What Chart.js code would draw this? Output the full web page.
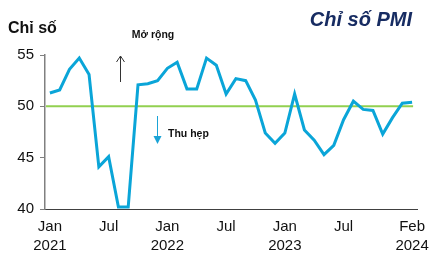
<!DOCTYPE html>
<html>
<head>
<meta charset="utf-8">
<script src="https://cdn.jsdelivr.net/npm/chart.js@4"></script>
<style>
  html, body { margin: 0; padding: 0; background: #fff; }
  #wrap { width: 430px; height: 255px; }
</style>
</head>
<body>
<div id="wrap"><canvas id="pmi-chart" width="430" height="255"></canvas></div>
<script>
// Tháng (Jan 2021 -> Feb 2024)
const thang = [
  'Jan 2021','Feb 2021','Mar 2021','Apr 2021','May 2021','Jun 2021','Jul 2021','Aug 2021','Sep 2021','Oct 2021','Nov 2021','Dec 2021',
  'Jan 2022','Feb 2022','Mar 2022','Apr 2022','May 2022','Jun 2022','Jul 2022','Aug 2022','Sep 2022','Oct 2022','Nov 2022','Dec 2022',
  'Jan 2023','Feb 2023','Mar 2023','Apr 2023','May 2023','Jun 2023','Jul 2023','Aug 2023','Sep 2023','Oct 2023','Nov 2023','Dec 2023',
  'Jan 2024','Feb 2024'
];

// Chỉ số PMI
const pmi = [
  51.3, 51.6, 53.6, 54.7, 53.1, 44.1, 45.1, 40.2, 40.2, 52.1, 52.2, 52.5,
  53.7, 54.3, 51.7, 51.7, 54.7, 54.0, 51.2, 52.7, 52.5, 50.6, 47.4, 46.4,
  47.4, 51.2, 47.7, 46.7, 45.3, 46.2, 48.7, 50.5, 49.7, 49.6, 47.3, 48.9,
  50.3, 50.4
];

// Ngưỡng 50
const nguong = 50;

// Nhãn trục x hiển thị
const nhanTrucX = {
  0: ['Jan', '2021'],
  6: ['Jul'],
  12: ['Jan', '2022'],
  18: ['Jul'],
  24: ['Jan', '2023'],
  30: ['Jul'],
  37: ['Feb', '2024']
};

// Vạch trục y
const vachTrucY = [40, 45, 50, 55];

const fontChu = 'Arial, "Liberation Sans", sans-serif';

// Plugin vẽ đường 50, mũi tên và chữ chú thích
const chuThich = {
  id: 'chuThich',
  beforeDatasetsDraw(chart) {
    const { ctx, chartArea, scales } = chart;
    const y = scales.y.getPixelForValue(nguong);
    const xCuoi = scales.x.getPixelForValue(pmi.length - 1);
    ctx.save();
    ctx.strokeStyle = '#92D050';
    ctx.lineWidth = 2;
    ctx.beginPath();
    ctx.moveTo(chartArea.left + 1, y);
    ctx.lineTo(xCuoi + 1, y);
    ctx.stroke();
    ctx.restore();
  },
  afterDraw(chart) {
    const { ctx } = chart;
    ctx.save();

    // Tiêu đề
    ctx.fillStyle = '#172C62';
    ctx.font = 'italic bold 20px ' + fontChu;
    ctx.textAlign = 'right';
    ctx.textBaseline = 'middle';
    ctx.fillText('Chỉ số PMI', 412, 20);

    // Đơn vị trục
    ctx.fillStyle = '#111';
    ctx.font = 'bold 16px ' + fontChu;
    ctx.textAlign = 'left';
    ctx.fillText('Chỉ số', 8, 29);

    // Mở rộng
    ctx.font = 'bold 10.5px ' + fontChu;
    ctx.textAlign = 'center';
    ctx.fillText('Mở rộng', 153, 35);

    // Mũi tên lên
    ctx.strokeStyle = '#333';
    ctx.lineWidth = 1;
    ctx.beginPath();
    ctx.moveTo(120.5, 82);
    ctx.lineTo(120.5, 56);
    ctx.moveTo(116.5, 62);
    ctx.lineTo(120.5, 56);
    ctx.lineTo(124.5, 62);
    ctx.stroke();

    // Thu hẹp
    ctx.fillStyle = '#111';
    ctx.textAlign = 'left';
    ctx.fillText('Thu hẹp', 168, 134);

    // Mũi tên xuống
    ctx.strokeStyle = '#1AA3D6';
    ctx.fillStyle = '#1AA3D6';
    ctx.beginPath();
    ctx.moveTo(157.5, 116);
    ctx.lineTo(157.5, 137);
    ctx.stroke();
    ctx.beginPath();
    ctx.moveTo(153.5, 136);
    ctx.lineTo(161.5, 136);
    ctx.lineTo(157.5, 144);
    ctx.closePath();
    ctx.fill();

    ctx.restore();
  }
};

const ctx = document.getElementById('pmi-chart').getContext('2d');

const grafico = new Chart(ctx, {
  type: 'line',
  data: {
    labels: thang,
    datasets: [{
      label: 'PMI',
      data: pmi,
      borderColor: '#0AA5D8',
      borderWidth: 3,
      pointRadius: 0,
      tension: 0,
      fill: false
    }]
  },
  options: {
    responsive: false,
    animation: false,
    layout: { padding: { top: 55, right: 13, left: 0, bottom: 0 } },
    plugins: {
      legend: { display: false },
      tooltip: { enabled: false }
    },
    scales: {
      x: {
        offset: true,
        grid: { display: false, drawTicks: false },
        border: { display: true, color: '#404040', width: 1 },
        ticks: {
          autoSkip: false,
          maxRotation: 0,
          padding: 9,
          color: '#111',
          font: { size: 15, family: fontChu, lineHeight: 1.22 },
          callback: (v, i) => nhanTrucX[i] || ''
        },
        afterFit: s => { s.height = 46; s.paddingLeft = 0; s.paddingRight = 0; }
      },
      y: {
        min: 40,
        max: 55,
        afterBuildTicks: s => { s.ticks = vachTrucY.map(v => ({ value: v })); },
        grid: { drawOnChartArea: false, drawTicks: true, tickLength: 5, color: '#808080' },
        border: { display: true, color: '#808080', width: 1.5 },
        ticks: {
          padding: 6,
          color: '#111',
          font: { size: 15, family: fontChu }
        },
        afterFit: s => { s.width = 45; s.paddingTop = 0; s.paddingBottom = 0; }
      }
    }
  },
  plugins: [chuThich]
});
</script>
</body>
</html>
